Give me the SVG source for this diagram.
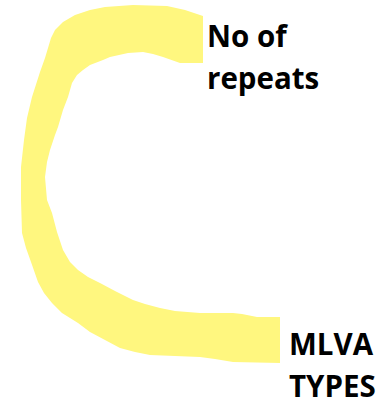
<svg xmlns="http://www.w3.org/2000/svg" width="384" height="402" viewBox="0 0 384 402">
<style>
.lbl{font-family:"Open Sans","Liberation Sans",sans-serif;font-weight:bold;font-size:29.5px;fill:#000}
.hl{fill:#FFF77F}
</style>
<rect width="384" height="402" fill="#fff"/>
<g id="stroke">
<path class="hl" d="M203,16 L185,10 L167,6 L133,5 L105,7 L90,10 L75,15 L63,22 L55,30 L51,38 L45,58 L40,72 L32,97 L27,118 L24,140 L21,167 L21,200 L22,233 L26,248 L31,262 L38,282 L44,293 L52,303 L62,313 L78,323 L90,332 L105,340 L120,348 L135,352 L150,355 L175,356 L200,357 L215,359 L233,362 L280,363 L280,317 L257,317 L242,314 L233,313 L200,313 L175,311 L160,308 L145,304 L133,300 L115,291 L100,283 L88,277 L78,270 L70,262 L63,250 L57,232 L52,213 L47,200 L45,177 L47,162 L50,150 L55,135 L58,127 L63,110 L68,97 L72,83 L77,75 L83,70 L90,65 L103,60 L110,57 L128,53 L143,52 L153,54 L163,57 L180,63 L203,63 Z"/>
</g>
<g id="label-repeats">
<text class="lbl" x="207" y="47">No of</text>
<text class="lbl" x="207" y="89">repeats</text>
</g>
<g id="label-mlva">
<text class="lbl" x="289" y="355">MLVA</text>
<text class="lbl" x="289" y="397">TYPES</text>
</g>
</svg>
